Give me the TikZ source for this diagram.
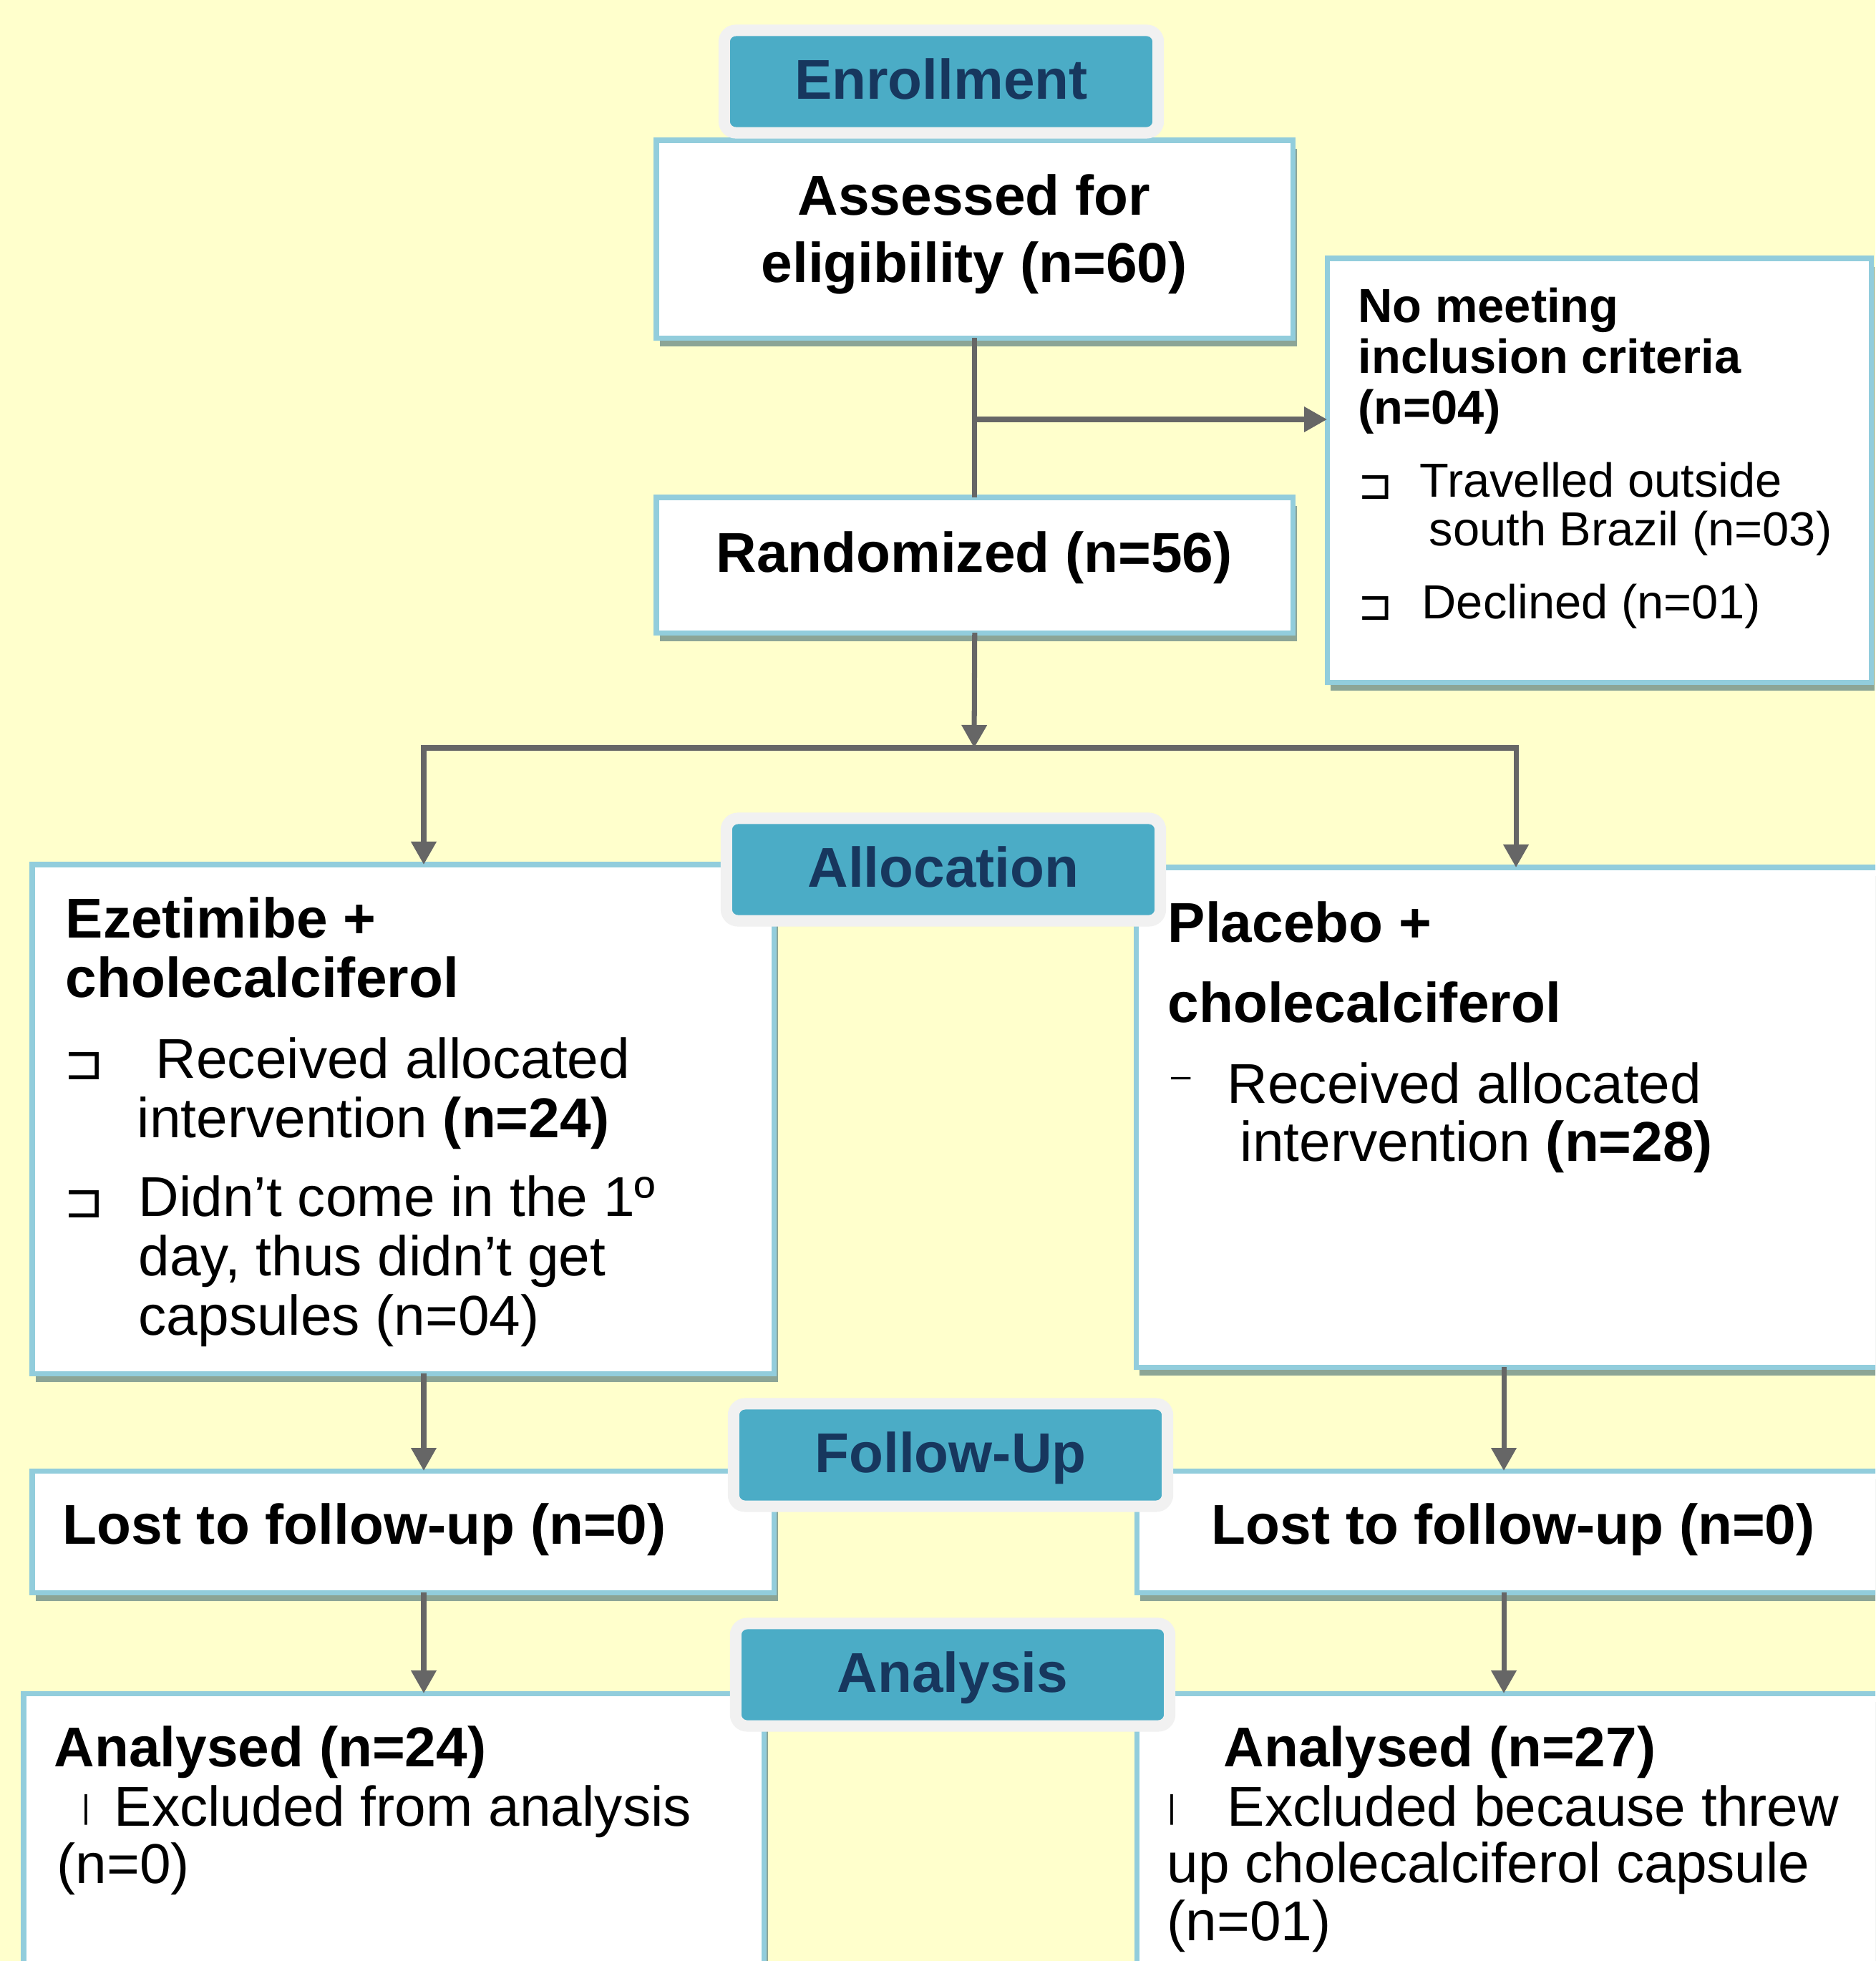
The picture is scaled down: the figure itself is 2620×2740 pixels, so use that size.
\documentclass[tikz,border=0pt]{standalone}
\usepackage{fontspec}
\setmainfont{Liberation Sans}
\newfontfamily\bulletfont{DejaVu Sans}
\usetikzlibrary{arrows.meta,shadows}
\definecolor{bgyellow}{RGB}{255,255,204}
\definecolor{boxline}{RGB}{146,205,220}
\definecolor{shadowgreen}{RGB}{140,165,150}
\definecolor{headteal}{RGB}{75,172,198}
\definecolor{headrim}{RGB}{241,241,241}
\definecolor{headtext}{RGB}{23,55,94}
\definecolor{arrowgray}{RGB}{102,102,102}

\tikzset{
  box/.style={draw=boxline, line width=2pt, fill=white, anchor=north west,
    inner sep=0pt, outer sep=0pt,
    drop shadow={shadow xshift=0.05cm, shadow yshift=-0.12cm, fill=shadowgreen, opacity=1}},
  header/.style={fill=headteal, draw=headrim, line width=0.16cm, rounded corners=0.16cm,
    minimum width=6.06cm, minimum height=1.43cm, inner sep=0pt, text=headtext,
    font=\bfseries\fontsize{22.3}{26}\selectfont, text height=0.56cm, text depth=0.08cm},
  conn/.style={draw=arrowgray, line width=2pt},
  arr/.style={conn, -{Triangle[length=0.32cm, width=0.34cm]}},
  txt/.style={anchor=base west, inner sep=0pt, align=left, font=\fontsize{22.3}{23.6}\selectfont},
  txtb/.style={txt, font=\bfseries\fontsize{22.3}{23.4}\selectfont},
  txts/.style={txt, font=\fontsize{19}{19.2}\selectfont},
  bul/.style={anchor=base west, inner sep=0pt, font=\bulletfont\fontsize{19}{19}\selectfont},
  buls/.style={bul, font=\bulletfont\fontsize{16.5}{16.5}\selectfont},
  dashbul/.style={anchor=base west, inner sep=0pt, font=\fontsize{14}{14}\selectfont},
  barbul/.style={anchor=base, inner sep=0pt, font=\fontsize{13}{13}\selectfont}
}

\begin{document}
\begin{tikzpicture}[x=0.01cm, y=-0.01cm]
\useasboundingbox (0,0) rectangle (2620,2740);
\clip (0,0) rectangle (2620,2740);
\fill[bgyellow] (0,0) rectangle (2620,2740);

% boxes
\node[box, minimum width=8.89cm, minimum height=2.76cm] (assess) at (917,196) {};
\node[box, minimum width=8.89cm, minimum height=1.89cm] (rand) at (917,695) {};
\node[box, minimum width=7.60cm, minimum height=5.92cm] (excl) at (1854,361) {};
\node[box, minimum width=10.36cm, minimum height=7.11cm] (ezet) at (45,1208) {};
\node[box, minimum width=10.73cm, minimum height=6.98cm] (plac) at (1587,1212) {};
\node[box, minimum width=10.36cm, minimum height=1.70cm] (lostL) at (45,2055) {};
\node[box, minimum width=10.72cm, minimum height=1.70cm] (lostR) at (1588,2055) {};
\node[box, minimum width=10.34cm, minimum height=4.34cm] (anaL) at (33,2366) {};
\node[box, minimum width=10.72cm, minimum height=4.34cm] (anaR) at (1588,2366) {};

% connectors
\coordinate (exit) at (1361,586);
\coordinate (split) at (1361,1045);
\coordinate (colL) at (592,0);
\coordinate (colR) at (2118,0);
\coordinate (colRR) at (2101,0);
\draw[conn] (assess.south) -- (rand.north);
\draw[arr] (exit) -- (exit -| excl.west);
\draw[arr] (rand.south) -- (split);
\draw[arr] (split) -| (colL |- ezet.north);
\draw[arr] (split) -| (colR |- plac.north);
\draw[arr] (colL |- ezet.south) -- (colL |- lostL.north);
\draw[arr] (colRR |- plac.south) -- (colRR |- lostR.north);
\draw[arr] (colL |- lostL.south) -- (colL |- anaL.north);
\draw[arr] (colRR |- lostR.south) -- (colRR |- anaR.north);

% stage headers
\node[header] (enrol) at (1315,114) {Enrollment};
\node[header] (alloc) at (1318,1215) {Allocation};
\node[header] (follow) at (1328,2033) {Follow-Up};
\node[header] (analysis) at (1331,2340) {Analysis};

% texts (multi-line nodes sit on the baseline of their last line)
\node[txtb, anchor=base, align=center, font=\bfseries\fontsize{22.3}{27}\selectfont] (assesstxt) at (1361,395) {Assessed for\\eligibility (n=60)};
\node[txtb, anchor=base] (randtxt) at (1361,799) {Randomized (n=56)};

\node[txts, font=\bfseries\fontsize{19}{20.2}\selectfont] (excltxt) at (1897,593) {No meeting\\inclusion criteria\\(n=04)};
\node[buls] (exclb1) at (1897,697) {⊐};
\node[txts] (excl1) at (1983,762) {Travelled outside\\\hspace*{0.13cm}south Brazil (n=03)};
\node[buls] (exclb2) at (1897,866) {⊐};
\node[txts] (excl2) at (1986,864) {Declined (n=01)};

\node[txtb] (ezettxt) at (91,1393) {Ezetimibe +\\cholecalciferol};
\node[bul] (ezetb1) at (89,1508) {⊐};
\node[txt] (ezet1) at (217,1506) {Received allocated};
\node[txt] (ezet2) at (191,1589) {intervention \textbf{(n=24)}};
\node[bul] (ezetb2) at (89,1701) {⊐};
\node[txt] (ezet3) at (193,1865) {Didn’t come in the 1º\\day, thus didn’t get\\capsules (n=04)};

\node[txtb, font=\bfseries\fontsize{22.3}{31.8}\selectfont] (plactxt) at (1631,1428) {Placebo +\\cholecalciferol};
\node[dashbul] (placb) at (1636,1519) {–};
\node[txt] (plac1) at (1714,1541) {Received allocated};
\node[txt] (plac2) at (1732,1622) {intervention \textbf{(n=28)}};

\node[txtb] (lostLtxt) at (87,2157) {Lost to follow-up (n=0)};
\node[txtb] (lostRtxt) at (1692,2157) {Lost to follow-up (n=0)};

\node[txtb] (anaLtxt) at (75,2468) {Analysed (n=24)};
\node[barbul] (anaLb) at (120,2540) {|};
\node[txt] (anaL1) at (159,2551) {Excluded from analysis};
\node[txt] (anaL2) at (79,2631) {(n=0)};
\node[txtb] (anaRtxt) at (1709,2468) {Analysed (n=27)};
\node[barbul] (anaRb) at (1637,2540) {|};
\node[txt] (anaR1) at (1714,2551) {Excluded because threw};
\node[txt, font=\fontsize{22.3}{22.8}\selectfont] (anaR2) at (1630,2711) {up cholecalciferol capsule\\(n=01)};
\end{tikzpicture}
\end{document}
